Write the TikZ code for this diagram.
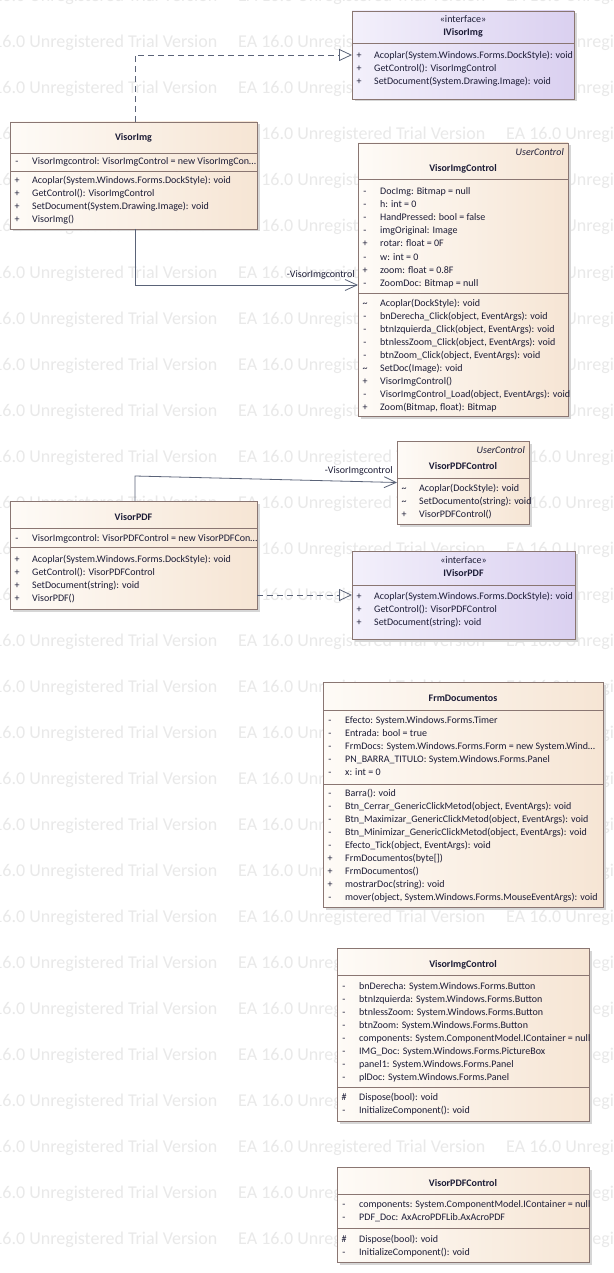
\documentclass[tikz,border=0pt]{standalone}
\usepackage{fontspec}
\setmainfont{Carlito}
\usetikzlibrary{arrows.meta,calc,shadows}

\definecolor{ink}{HTML}{1C1C36}
\definecolor{boxline}{HTML}{8A7672}
\definecolor{clsL}{HTML}{FEFBF7}
\definecolor{clsR}{HTML}{F6E5D4}
\definecolor{ifL}{HTML}{F3F0FB}
\definecolor{ifR}{HTML}{DAD0F0}
\definecolor{shade}{HTML}{D6D6D6}
\definecolor{connc}{HTML}{5A6378}
\definecolor{wmgray}{HTML}{E9E9E9}

\newcommand\mfont{\fontsize{10}{12}\selectfont}
\newcommand\wmfont{\fontsize{18}{20}\selectfont}

\tikzset{
  box/.style={draw=boxline, line width=0.7pt, inner sep=0pt, outer sep=0pt, anchor=north west,
    drop shadow={shadow xshift=2.5pt, shadow yshift=-2.5pt, fill=shade, opacity=1}},
  classbox/.style={box, left color=clsL, right color=clsR},
  ifacebox/.style={box, left color=ifL, right color=ifR},
  divline/.style={draw=boxline, line width=0.7pt},
  txtbase/.style={text=ink, inner sep=0pt, text height=7pt, text depth=1pt},
  vis/.style={txtbase, font=\mfont, anchor=center},
  mtext/.style={txtbase, font=\mfont, anchor=west},
  clstitle/.style={txtbase, font=\mfont\bfseries},
  stereo/.style={txtbase, font=\mfont},
  basecls/.style={txtbase, font=\mfont\itshape, anchor=east},
  wm/.style={font=\wmfont, text=wmgray, inner sep=0pt, anchor=base west},
  conn/.style={draw=connc, line width=0.8pt},
  realize/.style={conn, dash pattern=on 6pt off 4pt, -{Triangle[open, length=13pt, width=12pt]}},
  assoc/.style={conn, -{Straight Barb[length=12pt, width=11pt]}},
  rolelabel/.style={txtbase, font=\mfont, anchor=south east},
}

% box: style, name, left, top, right, bottom
\newcommand\umlbox[6]{%
  \node[#1, minimum width={(#5)-(#3)}, minimum height={(#6)-(#4)}] (#2) at (#3,#4) {};}
% compartment separator: left, right, y
\newcommand\divider[3]{\draw[divline] (#1,#3) -- (#2,#3);}
% member rows: prefix, box left, first row y, list of visibility/text
\newcommand\members[4]{%
  \foreach \vs/\vt [count=\i from 0] in {#4}{
    \node[vis] (#1v\i) at ({#2+7},{#3+13*\i}) {\vs};
    \node[mtext] (#1t\i) at ({#2+22},{#3+13*\i}) {\vt};
  }}

\begin{document}
\begin{tikzpicture}[x=1pt,y=-1pt]
\useasboundingbox (0,0) rectangle (613,1273);
\fill[white] (0,0) rectangle (613,1273);

% background trial-version stamp
\foreach \r in {0,...,27}{
  \foreach \c in {0,1,2}{
    \node[wm] (wm-\r-\c) at ({-30+268*\c},{2+46*\r}) {EA 16.0 Unregistered Trial Version};
  }}

% ---------------- IVisorImg
\umlbox{ifacebox}{ivi}{352}{11}{574}{99}
\node[stereo] (ivi-st) at (463,20) {«interface»};
\node[clstitle] (ivi-ti) at (463,33) {IVisorImg};
\divider{352}{574}{43}
\members{ivim}{352}{56}{+/{Acoplar(System.Windows.Forms.DockStyle): void},
  +/{GetControl(): VisorImgControl},
  +/{SetDocument(System.Drawing.Image): void}}

% ---------------- VisorImg
\umlbox{classbox}{vimg}{10}{122}{257}{229}
\node[clstitle] (vimg-ti) at (133.5,138) {VisorImg};
\divider{10}{257}{153}
\members{vima}{10}{162}{-/{VisorImgcontrol: VisorImgControl = new VisorImgCon…}}
\divider{10}{257}{171}
\members{vimm}{10}{181}{+/{Acoplar(System.Windows.Forms.DockStyle): void},
  +/{GetControl(): VisorImgControl},
  +/{SetDocument(System.Drawing.Image): void},
  +/{VisorImg()}}

% ---------------- VisorImgControl (user control)
\umlbox{classbox}{vic}{358}{143}{568}{416}
\node[basecls] (vic-bc) at (564,153) {UserControl};
\node[clstitle] (vic-ti) at (463,169) {VisorImgControl};
\divider{358}{568}{179}
\members{vica}{358}{192}{-/{DocImg: Bitmap = null},
  -/{h: int = 0},
  -/{HandPressed: bool = false},
  -/{imgOriginal: Image},
  +/{rotar: float = 0F},
  -/{w: int = 0},
  +/{zoom: float = 0.8F},
  -/{ZoomDoc: Bitmap = null}}
\divider{358}{568}{293}
\members{vicm}{358}{303}{\textasciitilde/{Acoplar(DockStyle): void},
  -/{bnDerecha\_Click(object, EventArgs): void},
  -/{btnIzquierda\_Click(object, EventArgs): void},
  -/{btnlessZoom\_Click(object, EventArgs): void},
  -/{btnZoom\_Click(object, EventArgs): void},
  \textasciitilde/{SetDoc(Image): void},
  +/{VisorImgControl()},
  -/{VisorImgControl\_Load(object, EventArgs): void},
  +/{Zoom(Bitmap, float): Bitmap}}

% ---------------- VisorPDFControl (user control)
\umlbox{classbox}{vpc}{397}{441}{529}{524}
\node[basecls] (vpc-bc) at (525,450) {UserControl};
\node[clstitle] (vpc-ti) at (463,466) {VisorPDFControl};
\divider{397}{529}{478}
\members{vpcm}{397}{488}{\textasciitilde/{Acoplar(DockStyle): void},
  \textasciitilde/{SetDocumento(string): void},
  +/{VisorPDFControl()}}

% ---------------- VisorPDF
\umlbox{classbox}{vpdf}{10}{501}{257}{609}
\node[clstitle] (vpdf-ti) at (133.5,517) {VisorPDF};
\divider{10}{257}{528}
\members{vpda}{10}{538}{-/{VisorImgcontrol: VisorPDFControl = new VisorPDFCon…}}
\divider{10}{257}{547}
\members{vpdm}{10}{559}{+/{Acoplar(System.Windows.Forms.DockStyle): void},
  +/{GetControl(): VisorPDFControl},
  +/{SetDocument(string): void},
  +/{VisorPDF()}}

% ---------------- IVisorPDF
\umlbox{ifacebox}{ivp}{352}{551}{575}{639}
\node[stereo] (ivp-st) at (463.5,560) {«interface»};
\node[clstitle] (ivp-ti) at (463.5,573) {IVisorPDF};
\divider{352}{575}{585}
\members{ivpm}{352}{596}{+/{Acoplar(System.Windows.Forms.DockStyle): void},
  +/{GetControl(): VisorPDFControl},
  +/{SetDocument(string): void}}

% ---------------- FrmDocumentos
\umlbox{classbox}{frm}{323}{682}{603}{907}
\node[clstitle] (frm-ti) at (463,698) {FrmDocumentos};
\divider{323}{603}{710}
\members{frma}{323}{720}{-/{Efecto: System.Windows.Forms.Timer},
  -/{Entrada: bool = true},
  -/{FrmDocs: System.Windows.Forms.Form = new System.Wind…},
  -/{PN\_BARRA\_TITULO: System.Windows.Forms.Panel},
  -/{x: int = 0}}
\divider{323}{603}{784}
\members{frmm}{323}{793}{-/{Barra(): void},
  -/{Btn\_Cerrar\_GenericClickMetod(object, EventArgs): void},
  -/{Btn\_Maximizar\_GenericClickMetod(object, EventArgs): void},
  -/{Btn\_Minimizar\_GenericClickMetod(object, EventArgs): void},
  -/{Efecto\_Tick(object, EventArgs): void},
  +/{FrmDocumentos(byte[])},
  +/{FrmDocumentos()},
  +/{mostrarDoc(string): void},
  -/{mover(object, System.Windows.Forms.MouseEventArgs): void}}

% ---------------- VisorImgControl (designer part)
\umlbox{classbox}{vic2}{337}{948}{589}{1121}
\node[clstitle] (vic2-ti) at (463,964) {VisorImgControl};
\divider{337}{589}{975}
\members{vc2a}{337}{986}{-/{bnDerecha: System.Windows.Forms.Button},
  -/{btnIzquierda: System.Windows.Forms.Button},
  -/{btnlessZoom: System.Windows.Forms.Button},
  -/{btnZoom: System.Windows.Forms.Button},
  -/{components: System.ComponentModel.IContainer = null},
  -/{IMG\_Doc: System.Windows.Forms.PictureBox},
  -/{panel1: System.Windows.Forms.Panel},
  -/{plDoc: System.Windows.Forms.Panel}}
\divider{337}{589}{1087}
\members{vc2m}{337}{1097}{\#/{Dispose(bool): void},
  -/{InitializeComponent(): void}}

% ---------------- VisorPDFControl (designer part)
\umlbox{classbox}{vpc2}{337}{1167}{589}{1262}
\node[clstitle] (vpc2-ti) at (463,1183) {VisorPDFControl};
\divider{337}{589}{1194}
\members{vp2a}{337}{1204}{-/{components: System.ComponentModel.IContainer = null},
  -/{PDF\_Doc: AxAcroPDFLib.AxAcroPDF}}
\divider{337}{589}{1228}
\members{vp2m}{337}{1239}{\#/{Dispose(bool): void},
  -/{InitializeComponent(): void}}

% ---------------- relationships
\draw[realize] ([xshift=1.5pt]vimg.north) |- (ivi.west);
\draw[assoc] ([xshift=1.5pt]vimg.south) |- ($(vic.north west)+(0,142)$)
  node[rolelabel, pos=1, xshift=-3pt, yshift=6pt] (lbl-img) {-VisorImgcontrol};
\draw[assoc] ([xshift=1.5pt]vpdf.north) -- ++(0,-25) -- (vpc.west)
  node[rolelabel, pos=1, xshift=-4pt, yshift=7.5pt] (lbl-pdf) {-VisorImgcontrol};
\draw[realize] (vpdf.east |- ivp.west) -- (ivp.west);
\end{tikzpicture}
\end{document}
